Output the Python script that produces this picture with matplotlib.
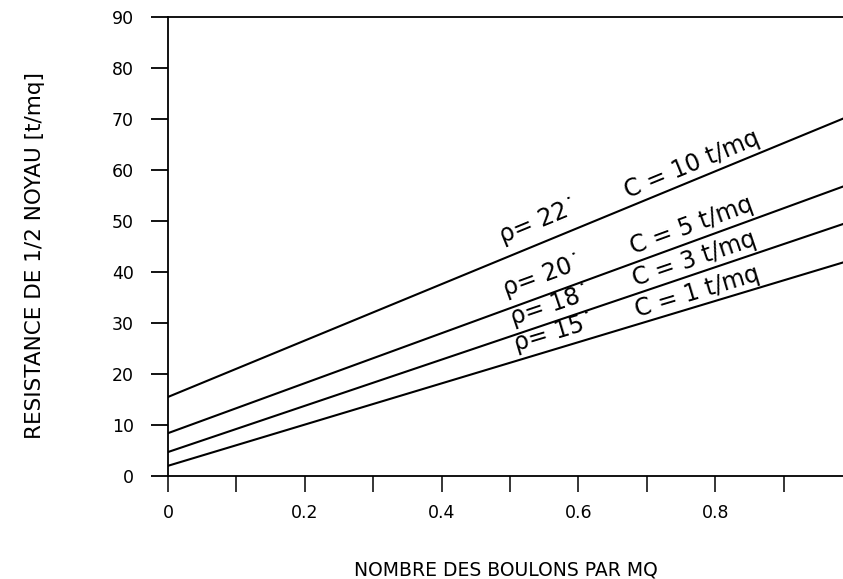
import numpy as np
import matplotlib
matplotlib.use("Agg")
import matplotlib.pyplot as plt

# Resistance lines: value at 0 and at 1 bolt per m2
cohesion = ["C = 10 t/mq", "C = 5 t/mq", "C = 3 t/mq", "C = 1 t/mq"]
phi_labels = ["ρ= 22˙", "ρ= 20˙", "ρ= 18˙", "ρ= 15˙"]
r_at_0 = [15.5, 8.4, 4.7, 2.0]
r_at_1 = [70.8, 57.4, 50.0, 42.4]

xticks = [0, 0.1, 0.2, 0.3, 0.4, 0.5, 0.6, 0.7, 0.8, 0.9]
xticklabels = ["0", "", "0.2", "", "0.4", "", "0.6", "", "0.8", ""]
yticks = [0, 10, 20, 30, 40, 50, 60, 70, 80, 90]

# label placement (x position, offset above the line)
phi_pos = [(0.49, 3.0), (0.495, 2.6), (0.505, 2.0), (0.51, 1.9)]
c_pos = [(0.672, 1.8), (0.68, 1.7), (0.683, 1.5), (0.686, 1.4)]

W, H = 843, 579
fig = plt.figure(figsize=(W / 100, H / 100), dpi=100)
ax = fig.add_axes([168 / W, (H - 476) / H, (W - 168) / W, (476 - 17) / H])

xmax = (843 - 168) / 684
ax.set_xlim(0, xmax)
ax.set_ylim(0, 90)

# pixel scale for rotating labels along the lines
px_x = 684.0
px_y = 459.0 / 90

x = np.array([0.0, 1.0])
for i in range(len(cohesion)):
    y = r_at_0[i] + (r_at_1[i] - r_at_0[i]) * x
    ax.plot(x, y, color="black", lw=1.5)
    slope = r_at_1[i] - r_at_0[i]
    ang = np.degrees(np.arctan(slope * px_y / px_x))
    xp, off = phi_pos[i]
    ax.text(xp, r_at_0[i] + slope * xp + off, phi_labels[i], rotation=ang,
            rotation_mode="anchor", ha="left", va="baseline", fontsize=17)
    xc, offc = c_pos[i]
    ax.text(xc, r_at_0[i] + slope * xc + offc, cohesion[i], rotation=ang,
            rotation_mode="anchor", ha="left", va="baseline", fontsize=17)

for s in ["left", "bottom", "top"]:
    ax.spines[s].set_linewidth(1.3)
ax.spines["right"].set_visible(False)

ax.set_xticks(xticks)
ax.set_xticklabels(xticklabels)
ax.set_yticks(yticks)
ax.tick_params(axis="y", direction="out", length=12.5, width=1.3, pad=12, labelsize=12.5)
ax.tick_params(axis="x", direction="out", length=11.5, width=1.1, pad=9, labelsize=12.5)

ax.set_xlabel("NOMBRE DES BOULONS PAR MQ", fontsize=13.5)
ax.xaxis.set_label_coords(0.5007, -0.185)
ax.set_ylabel("RESISTANCE DE 1/2 NOYAU [t/mq]", fontsize=15.5)
ax.yaxis.set_label_coords(-0.182, 0.481)

fig.savefig("out.png", dpi=100)
